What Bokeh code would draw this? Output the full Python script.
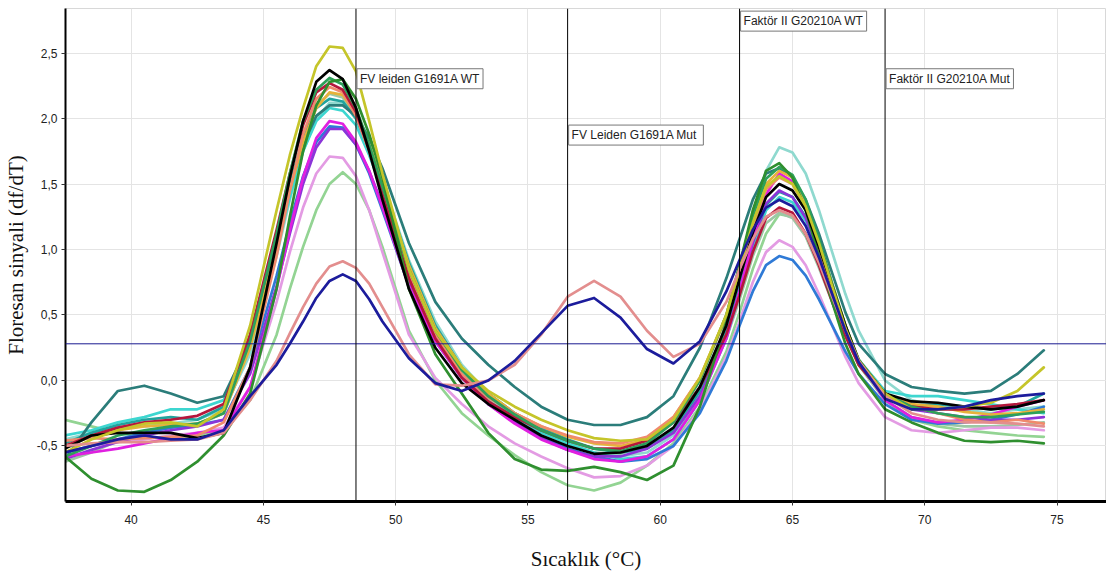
from bokeh.plotting import figure
from bokeh.models import Span, Label, FixedTicker, CustomJSTickFormatter, Range1d
from bokeh.embed import file_html
from bokeh.resources import INLINE

# ---------------- data ----------------
temps = [37.5, 38.5, 39.5, 40.5, 41.5, 42.5, 43.5,
         44.5, 45.5, 46.0, 46.5, 47.0, 47.5, 48.0, 48.5, 49.0, 49.5,
         50.5, 51.5, 52.5, 53.5, 54.5, 55.5, 56.5, 57.5, 58.5, 59.5, 60.5,
         61.5, 62.5,
         63.0, 63.5, 64.0, 64.5, 65.0, 65.5, 66.0, 66.5,
         67.0, 67.5,
         68.5, 69.5, 70.5, 71.5, 72.5, 73.5, 74.5]

yellow = [-0.55, -0.45, -0.38, -0.33, -0.32, -0.35, -0.22,
          0.42, 1.30, 1.72, 2.08, 2.40, 2.55, 2.54, 2.36, 1.98, 1.58,
          0.85, 0.38, 0.10, -0.08, -0.20, -0.30, -0.38, -0.44, -0.46, -0.45, -0.30,
          0.02, 0.50,
          0.85, 1.20, 1.48, 1.56, 1.50, 1.33, 1.05, 0.72,
          0.40, 0.15,
          -0.10, -0.22, -0.22, -0.20, -0.17, -0.08, 0.10]

black = [-0.52, -0.42, -0.40, -0.40, -0.40, -0.44, -0.40,
         0.10, 1.05, 1.55, 1.98, 2.28, 2.37, 2.30, 2.08, 1.75, 1.38,
         0.70, 0.25, -0.02, -0.18, -0.30, -0.42, -0.50, -0.56, -0.55, -0.50, -0.36,
         -0.05, 0.42,
         0.78, 1.13, 1.40, 1.50, 1.45, 1.30, 1.02, 0.72,
         0.42, 0.15,
         -0.10, -0.16, -0.17, -0.20, -0.22, -0.20, -0.15]

dark_green = [-0.58, -0.75, -0.84, -0.85, -0.76, -0.62, -0.42,
              -0.10, 0.70, 1.25, 1.75, 2.10, 2.28, 2.30, 2.15, 1.88, 1.55,
              0.70, 0.20, -0.10, -0.40, -0.60, -0.68, -0.69, -0.66, -0.70, -0.76, -0.65,
              -0.20, 0.45,
              0.88, 1.30, 1.60, 1.66, 1.55, 1.30, 0.95, 0.60,
              0.28, 0.05,
              -0.22, -0.32, -0.40, -0.46, -0.47, -0.46, -0.48]

crimson = [-0.50, -0.42, -0.36, -0.32, -0.30, -0.27, -0.18,
           0.35, 1.15, 1.58, 1.95, 2.20, 2.27, 2.22, 2.05, 1.76, 1.42,
           0.78, 0.32, 0.02, -0.16, -0.28, -0.38, -0.46, -0.52, -0.52, -0.46, -0.32,
           -0.05, 0.35,
           0.65, 0.98, 1.24, 1.32, 1.28, 1.12, 0.88, 0.60,
           0.34, 0.12,
           -0.12, -0.20, -0.22, -0.22, -0.20, -0.18, -0.15]

coral = [-0.46, -0.44, -0.45, -0.44, -0.43, -0.42, -0.32,
         0.10, 0.95, 1.45, 1.88, 2.15, 2.24, 2.20, 2.02, 1.75, 1.42,
         0.80, 0.35, 0.05, -0.13, -0.25, -0.35, -0.42, -0.47, -0.48, -0.43, -0.28,
         0.02, 0.48,
         0.82, 1.18, 1.46, 1.55, 1.50, 1.32, 1.02, 0.70,
         0.40, 0.15,
         -0.10, -0.20, -0.25, -0.30, -0.32, -0.30, -0.33]

sage = [-0.62, -0.55, -0.46, -0.40, -0.36, -0.34, -0.25,
        0.25, 1.05, 1.48, 1.85, 2.10, 2.19, 2.16, 2.00, 1.74, 1.44,
        0.82, 0.36, 0.05, -0.15, -0.30, -0.42, -0.50, -0.55, -0.56, -0.50, -0.38,
        -0.10, 0.32,
        0.62, 0.95, 1.20, 1.28, 1.24, 1.10, 0.86, 0.60,
        0.35, 0.12,
        -0.15, -0.28, -0.33, -0.35, -0.35, -0.34, -0.32]

teal = [-0.48, -0.40, -0.34, -0.30, -0.28, -0.30, -0.20,
        0.35, 1.10, 1.50, 1.85, 2.08, 2.15, 2.13, 2.00, 1.78, 1.50,
        0.90, 0.42, 0.10, -0.10, -0.25, -0.36, -0.45, -0.52, -0.55, -0.52, -0.38,
        -0.08, 0.38,
        0.72, 1.06, 1.34, 1.44, 1.40, 1.25, 0.98, 0.68,
        0.38, 0.13,
        -0.12, -0.20, -0.18, -0.20, -0.22, -0.20, -0.10]

dark_teal = [-0.60, -0.32, -0.08, -0.04, -0.10, -0.17, -0.12,
             0.30, 1.08, 1.48, 1.80, 2.02, 2.10, 2.10, 2.02, 1.85, 1.62,
             1.05, 0.60, 0.32, 0.12, -0.05, -0.20, -0.30, -0.34, -0.34, -0.28, -0.12,
             0.25, 0.78,
             1.08, 1.38, 1.58, 1.62, 1.55, 1.38, 1.12, 0.82,
             0.52, 0.28,
             0.05, -0.05, -0.08, -0.10, -0.08, 0.05, 0.23]

cyan = [-0.42, -0.38, -0.32, -0.28, -0.22, -0.22, -0.15,
        0.30, 1.00, 1.40, 1.75, 1.98, 2.08, 2.06, 1.95, 1.72, 1.45,
        0.85, 0.40, 0.10, -0.12, -0.28, -0.40, -0.48, -0.55, -0.60, -0.58, -0.45,
        -0.15, 0.32,
        0.66, 1.00, 1.30, 1.40, 1.36, 1.22, 0.96, 0.68,
        0.40, 0.16,
        -0.08, -0.12, -0.12, -0.15, -0.18, -0.22, -0.25]

magenta = [-0.58, -0.55, -0.52, -0.48, -0.44, -0.40, -0.38,
           -0.05, 0.70, 1.15, 1.55, 1.85, 1.98, 1.96, 1.82, 1.60, 1.32,
           0.72, 0.30, 0.02, -0.18, -0.33, -0.45, -0.53, -0.60, -0.62, -0.58, -0.45,
           -0.15, 0.32,
           0.68, 1.08, 1.42, 1.58, 1.52, 1.32, 1.02, 0.70,
           0.40, 0.15,
           -0.15, -0.28, -0.32, -0.30, -0.26, -0.20, -0.15]

blue = [-0.55, -0.50, -0.45, -0.40, -0.36, -0.34, -0.30,
        0.10, 0.80, 1.20, 1.56, 1.82, 1.94, 1.93, 1.80, 1.58, 1.30,
        0.72, 0.30, 0.02, -0.18, -0.32, -0.43, -0.52, -0.58, -0.62, -0.60, -0.50,
        -0.25, 0.15,
        0.42, 0.68, 0.88, 0.95, 0.92, 0.80, 0.62, 0.42,
        0.22, 0.05,
        -0.18, -0.30, -0.33, -0.32, -0.30, -0.26, -0.20]

purple = [-0.60, -0.53, -0.47, -0.42, -0.38, -0.35, -0.30,
          0.05, 0.72, 1.12, 1.50, 1.78, 1.92, 1.92, 1.80, 1.60, 1.34,
          0.75, 0.32, 0.03, -0.17, -0.32, -0.44, -0.53, -0.58, -0.58, -0.52, -0.40,
          -0.12, 0.34,
          0.68, 1.05, 1.35, 1.45, 1.40, 1.24, 0.98, 0.68,
          0.38, 0.14,
          -0.12, -0.22, -0.25, -0.28, -0.30, -0.30, -0.28]

lilac = [-0.55, -0.50, -0.47, -0.45, -0.42, -0.40, -0.36,
         -0.05, 0.60, 0.98, 1.32, 1.58, 1.71, 1.70, 1.56, 1.30, 0.98,
         0.35, 0.02, -0.18, -0.35, -0.48, -0.58, -0.67, -0.74, -0.73, -0.65, -0.50,
         -0.22, 0.18,
         0.45, 0.75, 0.98, 1.07, 1.02, 0.88, 0.66, 0.42,
         0.18, -0.02,
         -0.28, -0.38, -0.40, -0.38, -0.36, -0.36, -0.38]

light_green = [-0.30, -0.35, -0.40, -0.43, -0.44, -0.42, -0.38,
               -0.15, 0.35, 0.70, 1.02, 1.30, 1.50, 1.59, 1.50, 1.30, 1.02,
               0.38, 0.00, -0.25, -0.42, -0.57, -0.70, -0.80, -0.84, -0.78, -0.65, -0.48,
               -0.20, 0.22,
               0.52, 0.85, 1.12, 1.27, 1.25, 1.12, 0.90, 0.62,
               0.35, 0.12,
               -0.15, -0.30, -0.35, -0.38, -0.40, -0.42, -0.43]

rose = [-0.50, -0.48, -0.47, -0.47, -0.46, -0.45, -0.40,
        -0.15, 0.15, 0.36, 0.56, 0.74, 0.87, 0.91, 0.86, 0.74, 0.56,
        0.20, -0.03, -0.04, 0.00, 0.12, 0.35, 0.64, 0.76, 0.64, 0.38, 0.18,
        0.28, 0.60,
        0.85, 1.08, 1.25, 1.30, 1.26, 1.12, 0.90, 0.64,
        0.38, 0.15,
        -0.12, -0.25, -0.30, -0.32, -0.32, -0.33, -0.35]

navy = [-0.55, -0.50, -0.45, -0.42, -0.45, -0.45, -0.38,
        -0.12, 0.12, 0.28, 0.45, 0.63, 0.76, 0.81, 0.76, 0.62, 0.45,
        0.17, -0.02, -0.08, 0.00, 0.15, 0.36, 0.57, 0.63, 0.48, 0.24, 0.13,
        0.30, 0.68,
        0.92, 1.15, 1.32, 1.38, 1.33, 1.18, 0.94, 0.66,
        0.38, 0.14,
        -0.14, -0.22, -0.22, -0.20, -0.15, -0.12, -0.10]

light_aqua = [-0.45, -0.40, -0.36, -0.35, -0.33, -0.30, -0.22,
              0.20, 0.95, 1.38, 1.75, 2.00, 2.12, 2.12, 2.00, 1.80, 1.52,
              0.92, 0.45, 0.12, -0.10, -0.25, -0.38, -0.48, -0.55, -0.58, -0.55, -0.42,
              -0.12, 0.35,
              0.75, 1.20, 1.60, 1.78, 1.74, 1.58, 1.30, 0.98,
              0.66, 0.38,
              0.00, -0.15, -0.20, -0.22, -0.25, -0.22, -0.20]

gold = [-0.50, -0.43, -0.38, -0.35, -0.34, -0.33, -0.25,
        0.25, 1.02, 1.45, 1.82, 2.08, 2.20, 2.18, 2.03, 1.80, 1.50,
        0.88, 0.40, 0.10, -0.10, -0.25, -0.35, -0.43, -0.48, -0.50, -0.45, -0.28,
        0.02, 0.50,
        0.86, 1.22, 1.50, 1.60, 1.55, 1.36, 1.06, 0.74,
        0.42, 0.16,
        -0.10, -0.18, -0.20, -0.24, -0.26, -0.25, -0.22]

green = [-0.58, -0.50, -0.42, -0.38, -0.35, -0.33, -0.25,
         0.30, 1.12, 1.58, 1.98, 2.22, 2.31, 2.26, 2.08, 1.80, 1.48,
         0.85, 0.38, 0.08, -0.12, -0.26, -0.38, -0.46, -0.52, -0.54, -0.48, -0.32,
         0.00, 0.50,
         0.88, 1.26, 1.54, 1.63, 1.57, 1.38, 1.08, 0.74,
         0.42, 0.16,
         -0.10, -0.20, -0.25, -0.28, -0.28, -0.26, -0.24]

series = [
    (light_green, "#93d493"),
    (sage, "#9dc7a5"),
    (lilac, "#e39be3"),
    (light_aqua, "#8fd9cf"),
    (cyan, "#3dd6d0"),
    (teal, "#20a39e"),
    (dark_teal, "#2b7d7a"),
    (blue, "#2f7ad6"),
    (purple, "#8b35d8"),
    (magenta, "#e01fe0"),
    (gold, "#e6b23a"),
    (coral, "#f08a6c"),
    (crimson, "#b5173c"),
    (green, "#2da05a"),
    (dark_green, "#2f8f2f"),
    (black, "#000000"),
    (yellow, "#c5c52a"),
    (rose, "#e38e8e"),
    (navy, "#1c1c9c"),
]

x_ticks = [40, 45, 50, 55, 60, 65, 70, 75]
y_ticks = [-0.5, 0.0, 0.5, 1.0, 1.5, 2.0, 2.5]
threshold = 0.28
marker_temps = [48.5, 56.5, 63.0, 68.5]
marker_texts = ["FV leiden G1691A WT", "FV Leiden G1691A  Mut",
                "Faktör II G20210A WT", "Faktör II G20210A Mut"]
marker_label_y = [2.38, 1.95, 2.82, 2.38]

# ---------------- figure ----------------
p = figure(width=1106, height=577, output_backend="svg", toolbar_location=None,
           x_range=Range1d(37.52, 76.87), y_range=Range1d(-0.924, 2.84),
           min_border_left=63, min_border_right=0, min_border_top=8,
           min_border_bottom=76)
p.background_fill_color = "white"
p.border_fill_color = "white"
p.outline_line_color = "#d8d8d8"

p.grid.grid_line_color = "#e4e4e4"
p.grid.grid_line_width = 1

p.xaxis.ticker = FixedTicker(ticks=x_ticks)
p.yaxis.ticker = FixedTicker(ticks=y_ticks)
p.yaxis.formatter = CustomJSTickFormatter(code="return tick.toFixed(1).replace('.', ',');")

for ax in (p.xaxis, p.yaxis):
    ax.axis_line_color = "black"
    ax.major_tick_line_color = "#333333"
    ax.major_tick_out = 4
    ax.major_tick_in = 0
    ax.minor_tick_line_color = None
    ax.major_label_text_font = "Liberation Sans"
    ax.major_label_text_font_size = "12px"
    ax.major_label_text_color = "#222222"
    ax.axis_label_text_font = "Liberation Serif"
    ax.axis_label_text_font_size = "21px"
    ax.axis_label_text_font_style = "normal"
    ax.axis_label_text_color = "#111111"
p.xaxis.axis_line_width = 3
p.yaxis.axis_line_width = 2
p.xaxis.major_label_standoff = 9
p.yaxis.major_label_standoff = 4
p.xaxis.axis_label = "Sıcaklık (°C)"
p.yaxis.axis_label = "Floresan sinyali (df/dT)"
p.xaxis.axis_label_standoff = 20
p.yaxis.axis_label_standoff = 6

for vals, col in series:
    p.line(temps, vals, line_color=col, line_width=2.7, line_join="round", line_cap="round")

p.add_layout(Span(location=threshold, dimension="width", line_color="#1a1a90", line_width=1))
for t in marker_temps:
    p.add_layout(Span(location=t, dimension="height", line_color="black", line_width=1))

for t, txt, yy in zip(marker_temps, marker_texts, marker_label_y):
    p.add_layout(Label(x=t, y=yy, text=txt, x_offset=1, y_offset=0,
                       text_align="left", text_baseline="top",
                       text_font="Liberation Sans", text_font_size="12px",
                       text_color="#222222",
                       background_fill_color="white", border_line_color="#777777",
                       border_line_width=1, padding=3))

open("out.html", "w").write(file_html(p, INLINE))
